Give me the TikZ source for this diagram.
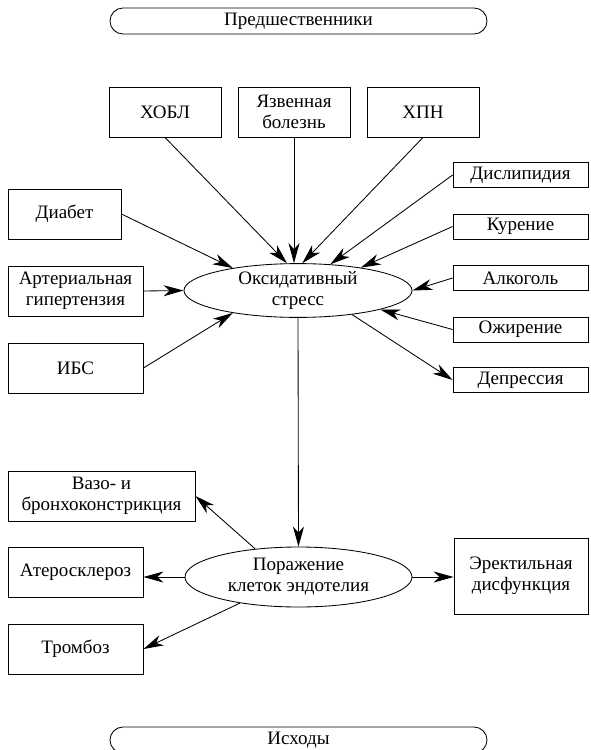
\documentclass[tikz,border=0pt]{standalone}
\usepackage{fontspec}
\setmainfont{Liberation Serif}
\usetikzlibrary{arrows.meta,shapes.geometric}

\begin{document}
\begin{tikzpicture}[x=1pt,y=-1pt,>={Stealth[length=20pt,width=11pt,inset=6pt]},line width=0.85pt,
  font=\fontsize{19}{21}\selectfont,
  box/.style={draw,align=center,inner sep=0pt,minimum height=50pt},
  sbox/.style={draw,inner sep=0pt,minimum width=135pt,minimum height=25pt},
  oval/.style={draw,ellipse,align=center,inner sep=0pt},
  pill/.style={draw,rounded corners=13pt,inner sep=0pt,minimum width=377pt,minimum height=26pt}]
  \useasboundingbox (0,0) rectangle (590,750);

  \node[pill] (pre) at (298.5,21) {Предшественники};
  \node[pill] (out) at (298.5,740) {Исходы};

  \node[box,minimum width=112pt] (hobl) at (165,112) {ХОБЛ};
  \node[box,minimum width=112pt] (yaz) at (294,112) {Язвенная\\болезнь};
  \node[box,minimum width=112pt] (hpn) at (423,112) {ХПН};

  \node[box,minimum width=113pt] (diab) at (64.5,214) {Диабет};
  \node[box,minimum width=135pt] (ag) at (75.5,291) {Артериальная\\гипертензия};
  \node[box,minimum width=135pt] (ibs) at (75.5,368) {ИБС};

  \node[sbox] (dis) at (520.5,175) {Дислипидия};
  \node[sbox] (kur) at (520.5,226.5) {Курение};
  \node[sbox] (alk) at (520.5,278) {Алкоголь};
  \node[sbox] (ozh) at (520.5,329.5) {Ожирение};
  \node[sbox] (dep) at (520.5,380) {Депрессия};

  \node[oval,minimum width=228pt,minimum height=49pt] (ox) at (298,290.5) {Оксидативный\\стресс};
  \node[oval,minimum width=227pt,minimum height=60pt] (por) at (298.5,577) {Поражение\\клеток эндотелия};

  \node[box,minimum width=187pt] (vazo) at (101.5,496) {Вазо- и\\бронхоконстрикция};
  \node[box,minimum width=135pt] (ath) at (75.5,572) {Атеросклероз};
  \node[box,minimum width=135pt] (tromb) at (75.5,649) {Тромбоз};
  \node[box,minimum width=134pt,minimum height=76pt] (er) at (521,576) {Эректильная\\дисфункция};

  % предшественники
  \draw[->] (hobl.south) -- (ox.112);
  \draw[->] (yaz.south) -- (yaz.south |- ox.north);
  \draw[->] (hpn.south) -- (ox.81);
  \draw[->] (dis.west) -- (ox.39);
  \draw[->] (kur.west) -- (ox.20);
  \draw[->] (alk.west) -- (ox.east);
  \draw[->] (ozh.west) -- (ox.-13);
  \draw[->] (ox.-24) -- (dep.west);
  \draw[->] (diab.east) -- (ox.161);
  \draw[->] (ag.east) -- (ox.west);
  \draw[->] (ibs.east) -- (ox.199);

  % исходы
  \draw[->] (ox.south) -- (por.north);
  \draw[->] (por.147) -- (vazo.east);
  \draw[->] (por.west) -- (por.west -| ath.east);
  \draw[->] (por.east) -- (por.east -| er.west);
  \draw[->] (por.204) -- (tromb.east);
\end{tikzpicture}
\end{document}
